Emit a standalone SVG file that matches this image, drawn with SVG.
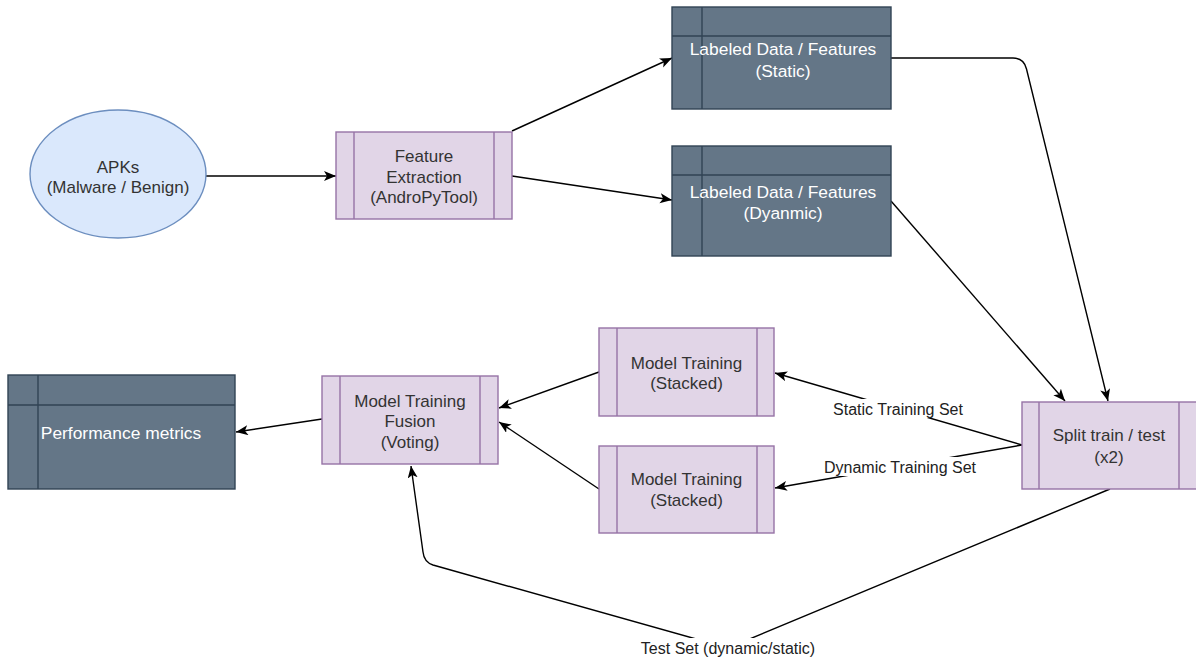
<svg xmlns="http://www.w3.org/2000/svg" width="1196" height="661" viewBox="0 0 1196 661">
  <style>
    .proc { fill: #e1d5e7; stroke: #9673a6; stroke-width: 1.4; }
    .proc-line { stroke: #9673a6; stroke-width: 1.4; fill: none; }
    .store { fill: #647687; stroke: #314354; stroke-width: 1.4; }
    .store-line { stroke: #314354; stroke-width: 1.4; fill: none; }
    .src { fill: #dae8fc; stroke: #6c8ebf; stroke-width: 1.4; }
    .t { font-family: "Liberation Sans", Arial, sans-serif; font-size: 17px; text-anchor: middle; fill: #333333; }
    .tw { font-family: "Liberation Sans", Arial, sans-serif; font-size: 17.4px; text-anchor: middle; fill: #ffffff; }
    .lbl { font-family: "Liberation Sans", Arial, sans-serif; font-size: 16px; text-anchor: middle; fill: #222222; }
    .edge { fill: none; stroke: #000000; stroke-width: 1.4; marker-end: url(#arrow); }
  </style>
  <defs>
    <marker id="arrow" markerUnits="userSpaceOnUse" markerWidth="14" markerHeight="12" refX="12" refY="5" orient="auto">
      <path d="M0,0 L12,5 L0,10 L3,5 Z" fill="#000000"/>
    </marker>
  </defs>

  <rect width="1196" height="661" fill="#ffffff"/>

  <!-- connectors -->
  <g id="connectors">
    <path class="edge" d="M206,176 L336,176"/>
    <path class="edge" d="M512,131 L672,58"/>
    <path class="edge" d="M512,176 L672,200"/>
    <path class="edge" d="M891,58 L1013,58 Q1024,58 1026.5,69 L1108,401"/>
    <path class="edge" d="M891,201 L1065,401"/>
    <path class="edge" d="M1022,445 L775,373"/>
    <path class="edge" d="M1022,445 L775,488"/>
    <path class="edge" d="M599,372 L499,408"/>
    <path class="edge" d="M599,489 L499,422"/>
    <path class="edge" d="M322,419 L236,432"/>
    <path class="edge" d="M1110,489 L728,648 L433,565 Q424,562 423,552 L411,466"/>
    <!-- edge labels -->
    <rect x="830" y="399" width="136" height="19" fill="#ffffff"/>
    <text class="lbl" x="898" y="415">Static Training Set</text>
    <rect x="820" y="457" width="160" height="19" fill="#ffffff"/>
    <text class="lbl" x="900" y="473">Dynamic Training Set</text>
    <rect x="637" y="638" width="182" height="19" fill="#ffffff"/>
    <text class="lbl" x="728" y="654">Test Set (dynamic/static)</text>
  </g>

  <g id="apks">
    <ellipse class="src" cx="118" cy="174" rx="88" ry="64"/>
    <text class="t" x="118" y="173">APKs</text>
    <text class="t" x="118" y="193">(Malware / Benign)</text>
  </g>

  <g id="feature-extraction">
    <rect class="proc" x="336" y="132" width="176" height="87"/>
    <path class="proc-line" d="M354,132 V219 M494,132 V219"/>
    <text class="t" x="424" y="162">Feature</text>
    <text class="t" x="424" y="183">Extraction</text>
    <text class="t" x="424" y="203">(AndroPyTool)</text>
  </g>

  <g id="labeled-static">
    <rect class="store" x="672" y="7" width="219" height="102"/>
    <path class="store-line" d="M702,7 V109 M672,36 H891"/>
    <text class="tw" x="783" y="55">Labeled Data / Features</text>
    <text class="tw" x="783" y="77">(Static)</text>
  </g>

  <g id="labeled-dynamic">
    <rect class="store" x="672" y="146" width="219" height="110"/>
    <path class="store-line" d="M702,146 V256 M672,175 H891"/>
    <text class="tw" x="783" y="198">Labeled Data / Features</text>
    <text class="tw" x="783" y="219">(Dyanmic)</text>
  </g>

  <g id="split">
    <rect class="proc" x="1022" y="402" width="176" height="87"/>
    <path class="proc-line" d="M1039,402 V489 M1179,402 V489"/>
    <text class="t" x="1109" y="441">Split train / test</text>
    <text class="t" x="1109" y="463">(x2)</text>
  </g>

  <g id="model-static">
    <rect class="proc" x="599" y="328" width="175" height="88"/>
    <path class="proc-line" d="M617,328 V416 M757,328 V416"/>
    <text class="t" x="686.5" y="369">Model Training</text>
    <text class="t" x="686.5" y="389">(Stacked)</text>
  </g>

  <g id="model-dynamic">
    <rect class="proc" x="599" y="446" width="175" height="87"/>
    <path class="proc-line" d="M617,446 V533 M757,446 V533"/>
    <text class="t" x="686.5" y="485">Model Training</text>
    <text class="t" x="686.5" y="506">(Stacked)</text>
  </g>

  <g id="fusion">
    <rect class="proc" x="322" y="376" width="176" height="88"/>
    <path class="proc-line" d="M340,376 V464 M480,376 V464"/>
    <text class="t" x="410" y="407">Model Training</text>
    <text class="t" x="410" y="427">Fusion</text>
    <text class="t" x="410" y="448">(Voting)</text>
  </g>

  <g id="performance">
    <rect class="store" x="8" y="375" width="227" height="114"/>
    <path class="store-line" d="M38,375 V489 M8,405 H235"/>
    <text class="tw" x="121" y="439">Performance metrics</text>
  </g>
</svg>
